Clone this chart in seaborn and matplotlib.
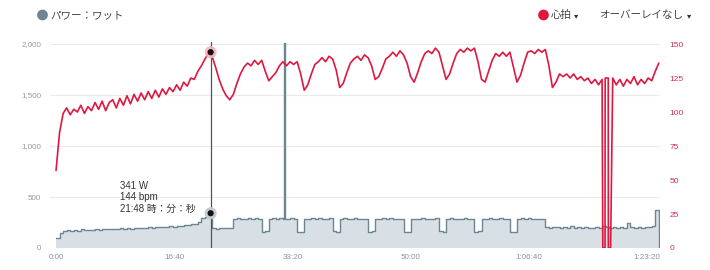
import numpy as np
import pandas as pd
import matplotlib
matplotlib.use("Agg")
import matplotlib.pyplot as plt
import seaborn as sns

# ---------------- data ----------------
SAMPLE_SEC = 30  # spacing of the samples below (s)

power_w = [
    100, 150, 168, 172, 165, 178, 170, 182, 175, 180,
    176, 185, 179, 188, 183, 190, 186, 184, 192, 188,
    195, 190, 198, 193, 200, 196, 204, 199, 207, 202,
    210, 206, 213, 209, 218, 214, 222, 226, 231, 238,
    252, 298, 305, 318,
    196, 190, 200, 193, 198, 192,
    286, 292, 283, 289, 295, 284, 290, 287, 158, 162,
    284, 290, 281, 293, 287, 282, 291, 286, 160, 155,
    288, 283, 292, 285, 290, 281, 287, 293, 163, 157,
    285, 291, 282, 288, 294, 283, 289, 286, 159, 164,
    287, 282, 290, 284, 292, 286, 281, 289, 156, 161,
    283, 289, 285, 291, 282, 288, 284, 290, 162, 158,
    286, 292, 283, 289, 285, 291, 282, 287, 157, 163,
    289, 284, 290, 283, 288, 293, 285, 286, 160, 156,
    284, 290, 286, 292, 283, 288, 285, 289,
    205, 198, 210, 202, 196, 207, 200, 212, 199, 204,
    197, 208, 201, 195, 206, 199, 211, 203, 198, 205,
    200, 209, 196, 242, 203, 198, 207, 201, 210, 204,
    215, 372, 355,
]

heart_bpm = [
    57, 85, 99, 103, 98, 102, 100, 105, 99, 104,
    101, 107, 102, 108, 101, 107, 109, 103, 110, 105,
    112, 106, 113, 108, 114, 109, 115, 110, 116, 111,
    117, 113, 118, 115, 120, 116, 122, 119, 125, 124,
    130, 134, 139, 143, 141, 133, 124, 117, 112, 109,
    113, 121, 128, 133, 136, 134, 138, 135, 138, 130,
    123, 126, 129, 134, 137, 134, 137, 135, 137, 128,
    116, 120, 128, 135, 137, 140, 137, 141, 139, 131,
    118, 121, 129, 136, 139, 141, 138, 142, 140, 134,
    124, 126, 132, 139, 141, 144, 141, 145, 142, 136,
    126, 122, 129, 137, 143, 145, 143, 147, 144, 134,
    124, 128, 136, 143, 146, 144, 147, 145, 147, 137,
    124, 122, 130, 138, 143, 141, 144, 141, 144, 133,
    122, 127, 136, 144, 145, 143, 146, 144, 146, 134,
    118, 122, 128, 126, 128, 125, 128, 124, 126, 123,
    125, 121, 124, 120, 124, None, None, 125, 120, 124,
    119, 124, 121, 126, 120, 124, 121, 125, 123, 130, 136,
]

# short events between samples
power_spike_t = [1926, 1934]
power_spike_w = [2010, 283]
power_end_t = [5105]
power_end_w = [0]
hr_gap_t = [4626, 4645, 4646, 4672, 4673, 4692]
hr_gap_bpm = [0, 0, 125, 125, 0, 0]

# hovered point
cursor_t = 1308
cursor_w = 341
cursor_bpm = 144

x_ticks = [0, 1000, 2000, 3000, 4000, 5000]
x_labels = ["0:00", "16:40", "33:20", "50:00", "1:06:40", "1:23:20"]
left_ticks = [0, 500, 1000, 1500, 2000]
left_labels = ["0", "500", "1,000", "1,500", "2,000"]
right_ticks = [0, 25, 50, 75, 100, 125, 150]
right_labels = ["0", "25", "50", "75", "100", "125", "150"]

# ---------------- frames ----------------
grid_t = np.arange(len(power_w)) * SAMPLE_SEC
pw = pd.concat([
    pd.DataFrame({"t": grid_t, "w": power_w}),
    pd.DataFrame({"t": power_spike_t, "w": power_spike_w}),
    pd.DataFrame({"t": power_end_t, "w": power_end_w}),
    pd.DataFrame({"t": [cursor_t], "w": [cursor_w]}),
]).sort_values("t").reset_index(drop=True)

hr = pd.concat([
    pd.DataFrame({"t": grid_t, "bpm": heart_bpm}).dropna(),
    pd.DataFrame({"t": hr_gap_t, "bpm": hr_gap_bpm}),
    pd.DataFrame({"t": [cursor_t], "bpm": [cursor_bpm]}),
]).astype(float).sort_values("t").reset_index(drop=True)

# ---------------- style ----------------
sns.set_theme(style="white")
plt.rcParams["font.family"] = ["Liberation Sans", "Noto Sans CJK JP", "DejaVu Sans"]

POWER_LINE = "#6b8593"
POWER_FILL = "#d8e0e5"
HR_RED = "#e0173f"

fig = plt.figure(figsize=(7.1, 2.7), dpi=100)
W, H = 710, 270
ax = fig.add_axes([50 / W, 22 / H, 610 / W, 206 / H])
YMAX = 2020
ax.set_xlim(-51, 5110)
ax.set_ylim(0, YMAX)

ax.grid(axis="y", color="#ebebeb", lw=0.8)
ax.grid(axis="x", visible=False)
ax.set_axisbelow(True)

ax.fill_between(pw["t"], pw["w"], step="post", color=POWER_FILL, lw=0, zorder=1)
sns.lineplot(data=pw, x="t", y="w", ax=ax, color=POWER_LINE, lw=1.0,
             drawstyle="steps-post", estimator=None, sort=False, zorder=2)
ax.axvline(cursor_t, color="#4f5559", lw=0.9, zorder=3)
sns.scatterplot(x=[cursor_t], y=[cursor_w], ax=ax, s=75, color="#c3cbd1",
                edgecolor="none", zorder=4)
sns.scatterplot(x=[cursor_t], y=[cursor_w], ax=ax, s=20, color="#111111",
                edgecolor="none", zorder=5)

ax2 = ax.twinx()
ax2.set_ylim(0, YMAX * 150 / 2000)
ax2.grid(False)
sns.lineplot(data=hr, x="t", y="bpm", ax=ax2, color=HR_RED, lw=1.2,
             estimator=None, sort=False, zorder=2)
sns.scatterplot(x=[cursor_t], y=[cursor_bpm], ax=ax2, s=75, color="#f4b3c1",
                edgecolor="none", zorder=4, alpha=0.9)
sns.scatterplot(x=[cursor_t], y=[cursor_bpm], ax=ax2, s=20, color="#111111",
                edgecolor="none", zorder=5)

for a in (ax, ax2):
    for sp in a.spines.values():
        sp.set_visible(False)
    a.set_xlabel("")
    a.set_ylabel("")

ax.set_xticks(x_ticks)
ax.set_xticklabels(x_labels)
ax.set_yticks(left_ticks)
ax.set_yticklabels(left_labels)
ax.tick_params(axis="x", length=0, pad=4, labelsize=5.8, labelcolor="#8a949c")
ax.tick_params(axis="y", length=0, pad=6.5, labelsize=5.8, labelcolor="#8c9ba7")
ax2.set_yticks(right_ticks)
ax2.set_yticklabels(right_labels)
ax2.tick_params(axis="y", length=0, pad=7, labelsize=6, labelcolor="#cf2c58")

# ---------------- overlay texts (pixel coordinates) ----------------
ov = fig.add_axes([0, 0, 1, 1], facecolor="none")
ov.set_xlim(0, W)
ov.set_ylim(H, 0)
ov.axis("off")

sns.scatterplot(x=[42.5, 543.5], y=[15, 15], ax=ov, s=60,
                hue=["p", "h"], palette=[POWER_LINE, HR_RED], legend=False,
                edgecolor="none")
ov.text(50, 15, "パワー：ワット", fontsize=7.6, color="#444444", va="center", ha="left")
ov.text(551, 15, "心拍", fontsize=7.6, color="#444444", va="center", ha="left")
ov.text(574, 16, "▾", fontsize=6, color="#333333", va="center", ha="left",
        family=["DejaVu Sans"])
ov.text(599, 15, "オーバーレイなし", fontsize=7.6, color="#444444", va="center", ha="left")
ov.text(687, 16, "▾", fontsize=6, color="#333333", va="center", ha="left",
        family=["DejaVu Sans"])

tip_color = "#333333"
ov.text(120.5, 186, f"{cursor_w} W", fontsize=7, color=tip_color, va="center", ha="left")
ov.text(120.5, 197.5, f"{cursor_bpm} bpm", fontsize=7, color=tip_color, va="center", ha="left")
ov.text(120.5, 209, "21:48 時：分：秒", fontsize=7, color=tip_color, va="center", ha="left")

fig.savefig("out.png", dpi=100)
